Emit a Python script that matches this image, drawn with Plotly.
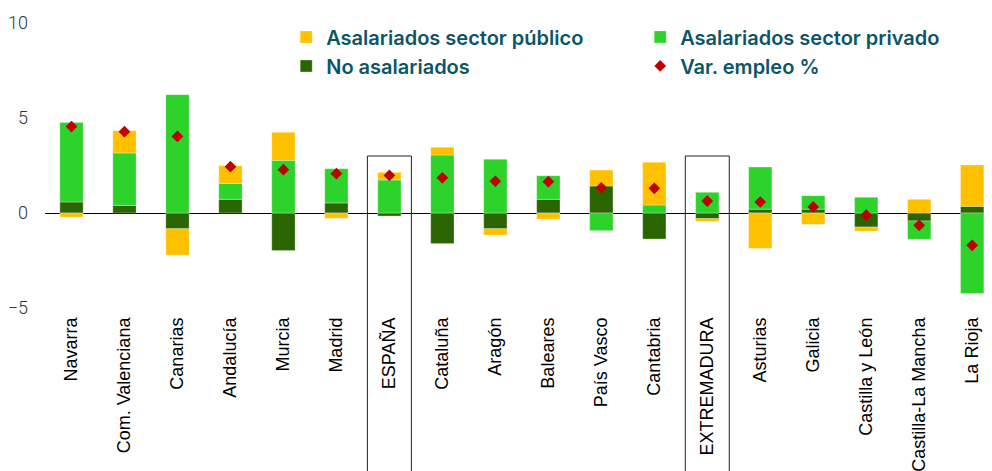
import plotly.graph_objects as go

regions = ["Navarra", "Com. Valenciana", "Canarias", "Andalucía", "Murcia", "Madrid",
           "ESPAÑA", "Cataluña", "Aragón", "Baleares", "País Vasco", "Cantabria",
           "EXTREMADURA", "Asturias", "Galicia", "Castilla y León", "Castilla-La Mancha",
           "La Rioja"]
no_asalariados = [0.58, 0.40, -0.83, 0.72, -1.98, 0.53, -0.16, -1.61, -0.83, 0.72,
                  1.42, -1.37, -0.30, 0.20, 0.20, -0.74, -0.42, 0.35]
asal_privado = [4.18, 2.76, 6.23, 0.84, 2.77, 1.80, 1.74, 3.05, 2.83, 1.24,
                -0.93, 0.42, 1.09, 2.22, 0.71, 0.83, -0.96, -4.24]
asal_publico = [-0.22, 1.17, -1.38, 0.93, 1.48, -0.28, 0.40, 0.41, -0.33, -0.32,
                0.84, 2.25, -0.14, -1.86, -0.60, -0.21, 0.72, 2.18]
var_empleo = [4.55, 4.28, 4.03, 2.44, 2.28, 2.07, 1.98, 1.85, 1.67, 1.65,
              1.33, 1.30, 0.63, 0.58, 0.32, -0.11, -0.65, -1.70]
highlighted = ["ESPAÑA", "EXTREMADURA"]
highlight_top = 3.0
y_ticks = [-5, 0, 5, 10]
y_range = [-5, 10]

C_PUB = "#FFC000"
C_PRIV = "#2DD22A"
C_NO = "#2B6501"
C_VAR = "#C00000"
LEG_COLOR = "#0B5568"
EDGE = "rgba(255,255,255,0.3)"

# page body adds an 8px offset, so the figure is 8px smaller than the window
W, H = 984, 463
M_L, M_R, M_T, M_B = 36.7, 0, 14.5, 163

plot_h = H - M_T - M_B
plot_w = W - M_L - M_R
px_per_cat = 53.0
x_max = -0.5 + plot_w / px_per_cat

fig = go.Figure()
bar_w = 0.44
fig.add_trace(go.Bar(x=regions, y=no_asalariados, name="No asalariados",
                     marker=dict(color=C_NO, line=dict(color=EDGE, width=1)),
                     width=bar_w, legendrank=3, legendwidth=309))
fig.add_trace(go.Bar(x=regions, y=asal_privado, name="Asalariados sector privado",
                     marker=dict(color=C_PRIV, line=dict(color=EDGE, width=1)),
                     width=bar_w, legendrank=2, legendwidth=275))
fig.add_trace(go.Bar(x=regions, y=asal_publico, name="Asalariados sector público",
                     marker=dict(color=C_PUB, line=dict(color=EDGE, width=1)),
                     width=bar_w, legendrank=1, legendwidth=309))
fig.add_trace(go.Scatter(x=regions, y=var_empleo, name="Var. empleo %", mode="markers",
                         marker=dict(symbol="diamond", size=9, color=C_VAR),
                         legendrank=4, legendwidth=275))

top_paper = (highlight_top - y_range[0]) / (y_range[1] - y_range[0])
bottom_paper = -(M_B + 10) / plot_h
for name in highlighted:
    i = regions.index(name)
    fig.add_shape(type="rect", xref="x", yref="paper",
                  x0=i - 0.415, x1=i + 0.415, y0=bottom_paper, y1=top_paper,
                  line=dict(color="#222222", width=1), fillcolor="rgba(0,0,0,0)",
                  layer="above")

fig.update_layout(
    width=W, height=H,
    margin=dict(l=M_L, r=M_R, t=M_T, b=M_B, pad=0, autoexpand=False),
    barmode="relative",
    plot_bgcolor="white", paper_bgcolor="white",
    showlegend=True,
    legend=dict(orientation="h", x=0.2547, y=1.0195, xanchor="left", yanchor="top",
                font=dict(family="Inter", size=20, color=LEG_COLOR, weight=600),
                bgcolor="rgba(0,0,0,0)", traceorder="normal"),
    xaxis=dict(range=[-0.5, x_max], showgrid=False, showline=False, zeroline=False,
               tickangle=-90, ticks="", ticklabelstandoff=5, automargin=False,
               tickfont=dict(family="Liberation Sans", size=18, color="#000000")),
    yaxis=dict(range=y_range, tickvals=y_ticks, showgrid=False, showline=False,
               zeroline=True, zerolinecolor="#000000", zerolinewidth=1,
               ticks="", ticklabelstandoff=16, automargin=False,
               tickfont=dict(family="Roboto", size=18, color="#333333", weight=300)),
)

fig.write_html("out.html")
